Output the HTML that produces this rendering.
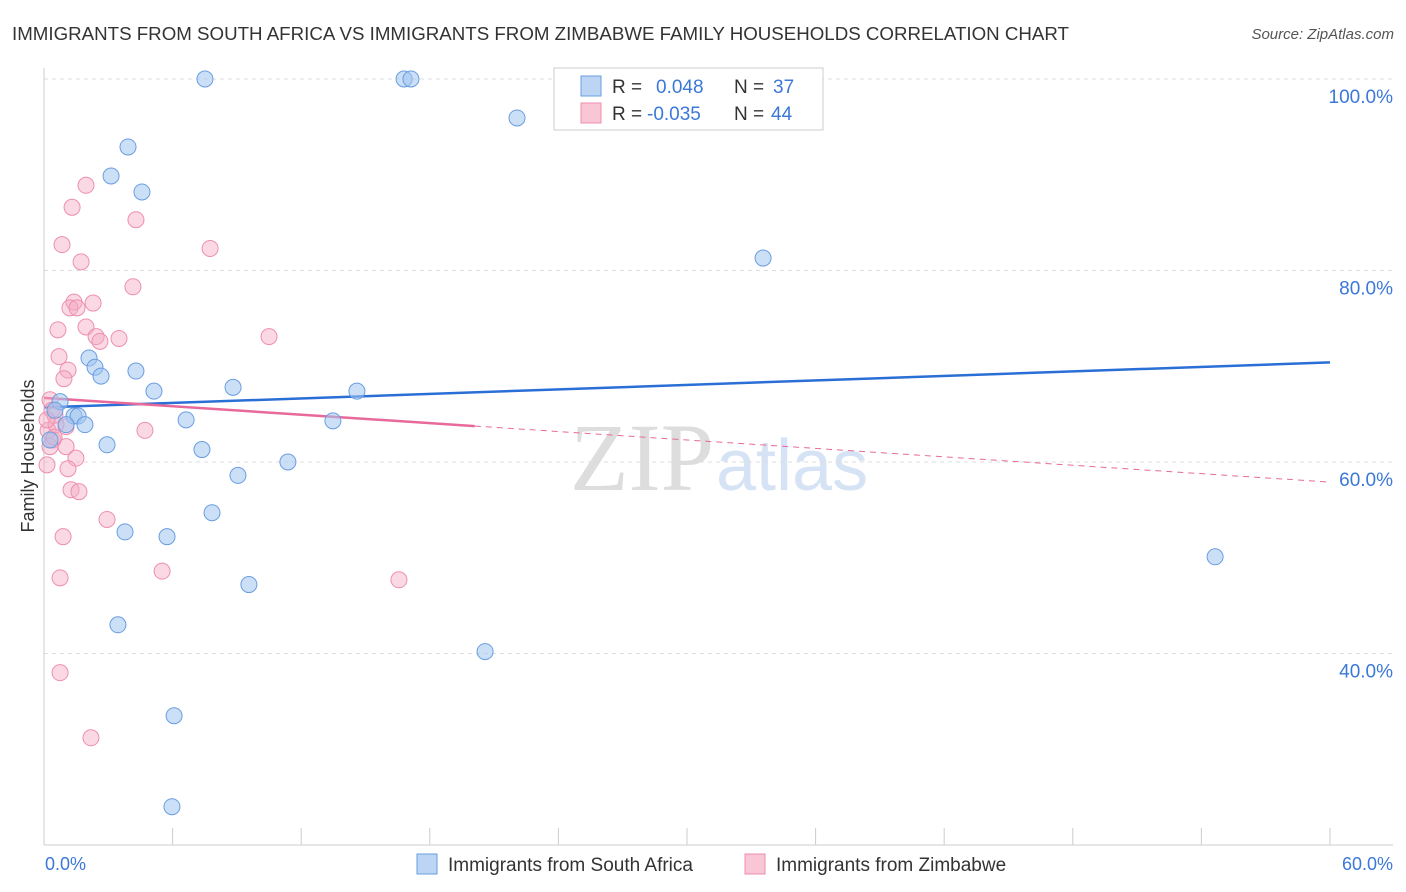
<!DOCTYPE html>
<html><head><meta charset="utf-8"><style>
body{margin:0;background:#fff;font-family:"Liberation Sans",sans-serif;}
svg{display:block}
</style></head><body>
<svg id="chart" width="1406" height="892">
<text x="12" y="40" font-size="18" fill="#333" textLength="1057" lengthAdjust="spacingAndGlyphs">IMMIGRANTS FROM SOUTH AFRICA VS IMMIGRANTS FROM ZIMBABWE FAMILY HOUSEHOLDS CORRELATION CHART</text>
<text x="1394" y="39" font-size="15" fill="#555" font-style="italic" text-anchor="end">Source: ZipAtlas.com</text>
<text x="714" y="490" font-size="96" fill="#ddd" text-anchor="end" font-family="Liberation Serif,serif">ZIP</text>
<text x="716" y="490" font-size="72" fill="#d6e3f5">atlas</text>
<g id="grid"></g><g id="axes"></g><g id="lines"></g><g id="pts"></g>
<text transform="translate(34,456) rotate(-90)" font-size="18" fill="#333" text-anchor="middle">Family Households</text>
<text x="45" y="870" font-size="18" fill="#3b78d8">0.0%</text>
<text x="1393" y="870" font-size="18" fill="#3b78d8" text-anchor="end">60.0%</text>
<g>
<rect x="554" y="68" width="269" height="62" fill="#fff" stroke="#ccc"/>
<rect x="581" y="76" width="20" height="20" fill="#bcd5f5" stroke="#6a9ee0"/>
<rect x="581" y="103" width="20" height="20" fill="#f9c6d6" stroke="#ee8fb0"/>
<text x="612" y="93" font-size="19" fill="#333">R =</text>
<text x="656" y="93" font-size="19" fill="#3b78d8">0.048</text>
<text x="734" y="93" font-size="19" fill="#333">N =</text>
<text x="773" y="93" font-size="19" fill="#3b78d8">37</text>
<text x="612" y="120" font-size="19" fill="#333">R =</text>
<text x="647" y="120" font-size="19" fill="#3b78d8">-0.035</text>
<text x="734" y="120" font-size="19" fill="#333">N =</text>
<text x="771" y="120" font-size="19" fill="#3b78d8">44</text>
</g>
<g>
<rect x="417" y="854" width="20" height="20" fill="#bcd5f5" stroke="#6a9ee0"/>
<text x="448" y="871" font-size="19" fill="#333">Immigrants from South Africa</text>
<rect x="745" y="854" width="20" height="20" fill="#f9c6d6" stroke="#ee8fb0"/>
<text x="776" y="871" font-size="19" fill="#333">Immigrants from Zimbabwe</text>
</g>
</svg>
<script>
const yTicks=[40,60,80,100];
const xTicks=[0,6,12,18,24,30,36,42,48,54,60];
const blueX=[7.51,16.8,17.12,22.07,3.92,3.13,4.57,33.55,2.10,2.38,2.66,4.29,5.13,8.82,14.6,0.75,1.40,1.59,1.91,1.03,6.63,13.48,2.94,7.37,11.38,9.05,7.84,3.78,5.74,9.56,3.45,20.58,6.07,5.97,54.64,0.51,0.28];
const blueY=[100,100,100,95.93,92.9,89.87,88.2,81.3,70.86,69.9,68.97,69.5,67.4,67.8,67.4,66.3,64.8,64.8,63.9,63.9,64.4,64.3,61.8,61.3,60.0,58.6,54.7,52.7,52.2,47.2,43.0,40.2,33.5,24.0,50.1,65.4,62.3];
const pinkX=[0.28,0.37,0.51,0.19,0.42,0.28,0.14,1.96,1.31,4.29,0.84,7.75,1.73,4.15,1.40,2.29,1.21,1.54,0.65,1.96,2.43,2.61,3.50,10.5,0.70,1.12,0.93,1.03,1.03,1.49,1.12,1.26,1.63,2.94,0.89,5.51,0.75,16.56,0.75,2.19,4.71,0.56,0.47,0.14];
const pinkY=[66.5,65.4,64.9,63.3,62.3,61.6,59.7,88.9,86.6,85.3,82.7,82.3,80.9,78.3,76.7,76.6,76.1,76.1,73.8,74.1,73.1,72.6,72.9,73.1,71.0,69.6,68.7,63.7,61.6,60.4,59.3,57.1,56.9,54.0,52.2,48.6,47.9,47.7,38.0,31.2,63.3,63.9,62.6,64.4];
const blueTrend=[65.7,70.4];
const pinkTrend=[66.7,57.9];
const pinkSolidEnd=20.1;
const X=v=>44+v*21.433, Y=v=>79+(100-v)*9.575;
const NS="http://www.w3.org/2000/svg";
function mk(t,a,p){const e=document.createElementNS(NS,t);for(const k in a)e.setAttribute(k,a[k]);p.appendChild(e);return e;}
const grid=document.getElementById('grid'),axes=document.getElementById('axes'),lines=document.getElementById('lines'),pts=document.getElementById('pts');
yTicks.forEach(t=>{
 const l=mk('line',{x1:44,x2:1393,y1:Y(t),y2:Y(t),stroke:'#ddd','stroke-dasharray':'4,4'},grid);
 
 
 const s=mk('text',{x:1393,y:Y(t)+24,'font-size':19,fill:'#3b78d8','text-anchor':'end'},grid);
 s.textContent=t.toFixed(1)+'%';
 
 
});
mk('line',{x1:44,x2:44,y1:68,y2:845,stroke:'#ccc'},axes);
mk('line',{x1:44,x2:1393,y1:845,y2:845,stroke:'#ccc'},axes);
xTicks.forEach(t=>{
 const l=mk('line',{x1:X(t),x2:X(t),y1:828,y2:845,stroke:'#ccc'},axes);
 
 
});
const bl=mk('line',{x1:X(0),y1:Y(blueTrend[0]),x2:X(60),y2:Y(blueTrend[1]),stroke:'#2a6fd6','stroke-width':2.5},lines);


const pAt=x=>pinkTrend[0]+(pinkTrend[1]-pinkTrend[0])*x/60;
const pl=mk('line',{x1:X(0),y1:Y(pinkTrend[0]),x2:X(pinkSolidEnd),y2:Y(pAt(pinkSolidEnd)),stroke:'#e8699a','stroke-width':2.5},lines);


const pd=mk('line',{x1:X(pinkSolidEnd),y1:Y(pAt(pinkSolidEnd)),x2:X(60),y2:Y(pinkTrend[1]),stroke:'#e8699a','stroke-width':1,'stroke-dasharray':'6,5'},lines);


pinkX.forEach((x,i)=>{
 const c=mk('circle',{cx:X(x),cy:Y(pinkY[i]),r:8,fill:'rgba(245,170,196,0.45)',stroke:'#ee8fb0','stroke-width':1},pts);
 
 
});
blueX.forEach((x,i)=>{
 const c=mk('circle',{cx:X(x),cy:Y(blueY[i]),r:8,fill:'rgba(160,196,240,0.55)',stroke:'#6a9ee0','stroke-width':1},pts);
 
 
});
</script>
</body></html>
